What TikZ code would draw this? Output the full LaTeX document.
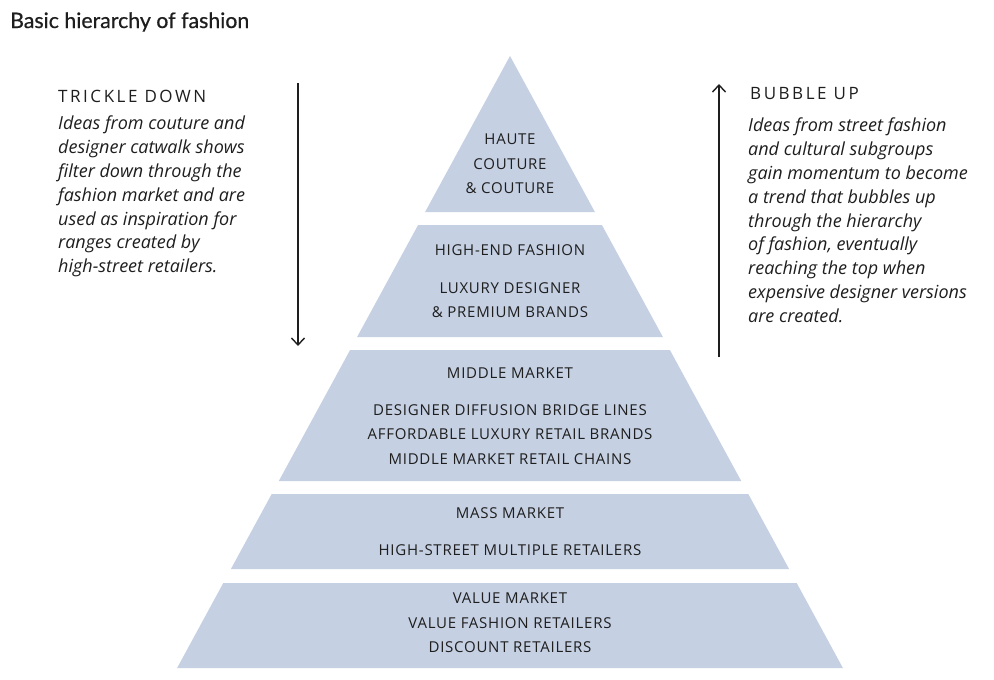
\documentclass[tikz,border=0pt]{standalone}
\usepackage{fontspec}
\setmainfont{Open Sans}
\newfontfamily\titlefont[FakeBold=0.6]{Lato}
\newfontfamily\capsfont[LetterSpace=5]{Open Sans}
\newfontfamily\headfont[LetterSpace=15]{Open Sans}
\usetikzlibrary{arrows.meta}
\begin{document}
\begin{tikzpicture}[x=1pt,y=-1pt,font=\capsfont\fontsize{15}{24.5}\selectfont,>={Straight Barb[length=7pt,width=13pt]}]
  \definecolor{ink}{HTML}{1E1E1E}
  \definecolor{tierfill}{HTML}{C5D0E3}
  \tikzset{tier/.style={fill=tierfill},
    tiertext/.style={text=ink,align=center,inner sep=0pt},
    head/.style={text=ink,inner sep=0pt,anchor=base west,font=\headfont\fontsize{17}{20}\selectfont},
    note/.style={text=ink,align=left,inner sep=0pt,font=\fontsize{18}{23.8}\selectfont\itshape},
    flow/.style={->,draw=ink,line width=1.4pt}}
  \useasboundingbox (0,0) rectangle (994,680);
  \node[anchor=base west,inner sep=0pt,text=ink,font=\titlefont\fontsize{21.3}{24}\selectfont] (title) at (10,28) {Basic hierarchy of fashion};
  % pyramid tiers, top to bottom
  \fill[tier] (510,56) -- (594.9,212) -- (425.1,212) -- cycle;
  \fill[tier] (418.1,225) -- (601.9,225) -- (662.9,337) -- (357.1,337) -- cycle;
  \fill[tier] (350.1,350) -- (669.9,350) -- (741.2,481) -- (278.8,481) -- cycle;
  \fill[tier] (271.7,494) -- (748.3,494) -- (789.1,569) -- (230.9,569) -- cycle;
  \fill[tier] (223.3,583) -- (796.7,583) -- (842.9,668) -- (177.1,668) -- cycle;
  \node[tiertext] (haute) at (510,164) {HAUTE\\COUTURE\\\& COUTURE};
  \node[tiertext] (highend) at (510,250) {HIGH-END FASHION};
  \node[tiertext] (luxury) at (510,300) {LUXURY DESIGNER\\\& PREMIUM BRANDS};
  \node[tiertext] (middle) at (510,373) {MIDDLE MARKET};
  \node[tiertext] (diffusion) at (510,434.5) {DESIGNER DIFFUSION BRIDGE LINES\\AFFORDABLE LUXURY RETAIL BRANDS\\MIDDLE MARKET RETAIL CHAINS};
  \node[tiertext] (mass) at (510,513) {MASS MARKET};
  \node[tiertext] (highstreet) at (510,550) {HIGH-STREET MULTIPLE RETAILERS};
  \node[tiertext] (value) at (510,623) {VALUE MARKET\\VALUE FASHION RETAILERS\\DISCOUNT RETAILERS};
  % side notes
  \node[head] (trickle) at (58,102) {TRICKLE DOWN};
  \node[note,anchor=north west] (trickletext) at (58,116) {Ideas from couture and\\designer catwalk shows\\filter down through the\\fashion market and are\\used as inspiration for\\ranges created by\\high-street retailers.};
  \node[head] (bubble) at (750,99) {BUBBLE UP};
  \node[note,anchor=north west] (bubbletext) at (748,118) {Ideas from street fashion\\and cultural subgroups\\gain momentum to become\\a trend that bubbles up\\through the hierarchy\\of fashion, eventually\\reaching the top when\\expensive designer versions\\are created.};
  \coordinate (downstart) at (298,83);
  \coordinate (downend) at (298,346);
  \coordinate (upstart) at (719,357);
  \coordinate (upend) at (719,84);
  \draw[flow] (downstart) -- (downend);
  \draw[flow] (upstart) -- (upend);
\end{tikzpicture}
\end{document}
